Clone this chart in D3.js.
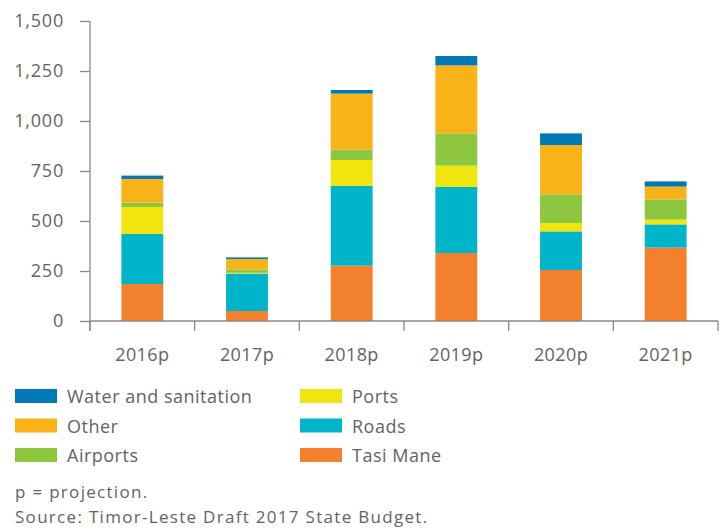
<!DOCTYPE html>
<html>
<head>
<meta charset="utf-8">
<script src="https://cdn.jsdelivr.net/npm/d3@7"></script>
<style>
  body { margin: 0; background: #fff; }
  svg text { font-family: "Open Sans", "Lato", sans-serif; fill: #636363; }
</style>
</head>
<body>
<div id="chart"></div>
<script>
// years on the x axis
var years = ["2016p", "2017p", "2018p", "2019p", "2020p", "2021p"];

// series values (bottom of the stack first)
var tasiMane = [185, 50, 277, 340, 255, 367];
var roads = [250, 187, 398, 330, 193, 116];
var ports = [135, 4, 130, 107, 42, 24];
var airports = [22, 16, 52, 161, 143, 101];
var other = [118, 53, 280, 340, 247, 64];
var water = [17, 8, 18, 47, 58, 26];

var yTicks = [0, 250, 500, 750, 1000, 1250, 1500];

var seriesNames = ["Tasi Mane", "Roads", "Ports", "Airports", "Other", "Water and sanitation"];
var seriesColors = ["#f2802d", "#00b5c9", "#f0e60e", "#8dc63f", "#f9b218", "#0079b7"];

// build rows for d3.stack
var rows = years.map(function(y, i) {
    return {
        year: y,
        "Tasi Mane": tasiMane[i],
        "Roads": roads[i],
        "Ports": ports[i],
        "Airports": airports[i],
        "Other": other[i],
        "Water and sanitation": water[i]
    };
});

var width = 725, height = 529;
var margin = {top: 21, right: 7, bottom: 208, left: 90};
var w = width - margin.left - margin.right,
    h = height - margin.top - margin.bottom;

var svg = d3.select("#chart").append("svg")
    .attr("width", width)
    .attr("height", height);

var g = svg.append("g")
    .attr("transform", "translate(" + margin.left + "," + margin.top + ")");

var x = d3.scaleBand()
    .domain(years)
    .range([0, w])
    .paddingInner(0.6)
    .paddingOuter(0.3);

var y = d3.scaleLinear()
    .domain([0, 1500])
    .range([h, 0]);

var stack = d3.stack().keys(seriesNames);
var layers = stack(rows);

var color = d3.scaleOrdinal().domain(seriesNames).range(seriesColors);

g.selectAll("g.layer")
    .data(layers)
    .enter().append("g")
    .attr("class", "layer")
    .attr("fill", function(d) { return color(d.key); })
    .selectAll("rect")
    .data(function(d) { return d; })
    .enter().append("rect")
    .attr("x", function(d) { return x(d.data.year); })
    .attr("width", x.bandwidth())
    .attr("y", function(d) { return y(d[1]); })
    .attr("height", function(d) { return y(d[0]) - y(d[1]); });

// y axis
var yAxis = d3.axisLeft(y)
    .tickValues(yTicks)
    .tickFormat(d3.format(","))
    .tickSize(10)
    .tickPadding(16);

var yg = g.append("g").call(yAxis);
yg.select(".domain").attr("d", "M0," + (h + 10) + "V0");

// x axis, ticks sit between the bars
var step = w / years.length;
var xg = g.append("g").attr("transform", "translate(0," + h + ")");
xg.append("line")
    .attr("x1", 0).attr("x2", w)
    .attr("y1", 0).attr("y2", 0);
xg.selectAll("line.tick")
    .data(d3.range(years.length + 1))
    .enter().append("line")
    .attr("class", "tick")
    .attr("x1", function(d) { return d * step; })
    .attr("x2", function(d) { return d * step; })
    .attr("y1", 0).attr("y2", 10);
xg.selectAll("text")
    .data(years)
    .enter().append("text")
    .attr("x", function(d) { return x(d) + x.bandwidth() / 2; })
    .attr("y", 40)
    .attr("text-anchor", "middle")
    .style("font-size", "18px")
    .style("letter-spacing", "0.4px")
    .text(function(d) { return d; });

svg.selectAll(".domain, .tick line, line")
    .attr("stroke", "#8a8a8a")
    .attr("stroke-width", 1.3);
yg.selectAll("text")
    .style("font-size", "18px")
    .style("letter-spacing", "0.8px")
    .attr("fill", "#636363");
yg.attr("font-family", null).attr("font-size", null);

// legend: two columns, top to bottom
var legendOrder = [
    ["Water and sanitation", "Other", "Airports"],
    ["Ports", "Roads", "Tasi Mane"]
];
var legend = svg.append("g");
legendOrder.forEach(function(col, ci) {
    col.forEach(function(name, ri) {
        var lx = ci === 0 ? 15 : 300;
        var ly = 389 + ri * 29.5;
        legend.append("rect")
            .attr("x", lx).attr("y", ly)
            .attr("width", 42).attr("height", 14)
            .attr("fill", color(name));
        legend.append("text")
            .attr("x", lx + 52).attr("y", ly + 14)
            .style("font-size", "18px")
            .style("letter-spacing", "0.5px")
            .text(name);
    });
});

svg.append("text")
    .attr("x", 15).attr("y", 498)
    .style("font-size", "17px")
    .style("letter-spacing", "1.3px")
    .text("p = projection.");
svg.append("text")
    .attr("x", 15).attr("y", 523)
    .style("font-size", "17px")
    .style("letter-spacing", "1.3px")
    .text("Source: Timor-Leste Draft 2017 State Budget.");
</script>
</body>
</html>
